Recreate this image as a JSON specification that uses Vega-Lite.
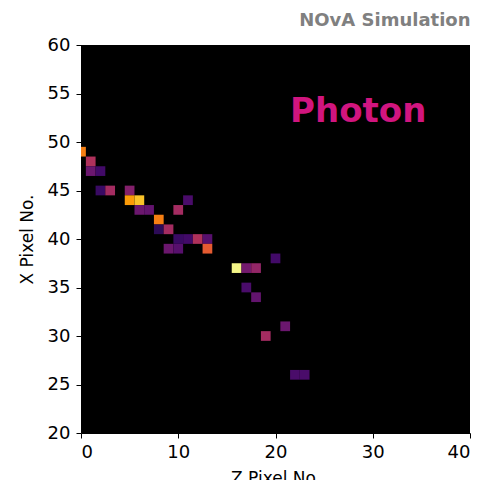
{
  "$schema": "https://vega.github.io/schema/vega-lite/v6.json",
  "autosize": "none",
  "width": 389,
  "height": 388,
  "padding": {"left": 81, "top": 45, "right": 20, "bottom": 47},
  "background": "white",
  "config": {
    "view": {"fill": "#000000", "stroke": null},
    "font": "DejaVu Sans",
    "axis": {"grid": false, "domainColor": "#000000", "tickColor": "#000000", "tickSize": 5, "labelColor": "#000000", "titleColor": "#000000", "labelFont": "DejaVu Sans", "titleFont": "DejaVu Sans", "labelFontSize": 18, "titleFontSize": 17, "titleFontWeight": "normal"}
  },
  "title": {"text": "NOvA Simulation", "anchor": "end", "color": "#808080", "fontSize": 18, "font": "DejaVu Sans", "fontWeight": "bold", "offset": 6},
  "layer": [
    {
      "data": {"values": [
        {"z": 0, "x": 49, "e": 0.72},
        {"z": 1, "x": 48, "e": 0.47},
        {"z": 1, "x": 47, "e": 0.3},
        {"z": 2, "x": 47, "e": 0.2},
        {"z": 2, "x": 45, "e": 0.18},
        {"z": 3, "x": 45, "e": 0.44},
        {"z": 5, "x": 45, "e": 0.36},
        {"z": 5, "x": 44, "e": 0.78},
        {"z": 6, "x": 44, "e": 0.86},
        {"z": 11, "x": 44, "e": 0.22},
        {"z": 6, "x": 43, "e": 0.3},
        {"z": 7, "x": 43, "e": 0.28},
        {"z": 10, "x": 43, "e": 0.44},
        {"z": 8, "x": 42, "e": 0.72},
        {"z": 8, "x": 41, "e": 0.15},
        {"z": 9, "x": 41, "e": 0.44},
        {"z": 10, "x": 40, "e": 0.18},
        {"z": 11, "x": 40, "e": 0.2},
        {"z": 12, "x": 40, "e": 0.47},
        {"z": 13, "x": 40, "e": 0.25},
        {"z": 9, "x": 39, "e": 0.3},
        {"z": 10, "x": 39, "e": 0.25},
        {"z": 13, "x": 39, "e": 0.63},
        {"z": 20, "x": 38, "e": 0.2},
        {"z": 16, "x": 37, "e": 0.97},
        {"z": 17, "x": 37, "e": 0.32},
        {"z": 18, "x": 37, "e": 0.4},
        {"z": 17, "x": 35, "e": 0.22},
        {"z": 18, "x": 34, "e": 0.28},
        {"z": 21, "x": 31, "e": 0.3},
        {"z": 19, "x": 30, "e": 0.44},
        {"z": 22, "x": 26, "e": 0.22},
        {"z": 23, "x": 26, "e": 0.22}
      ]},
      "mark": {"type": "square", "size": 94.5, "opacity": 1, "filled": true, "strokeWidth": 0, "clip": true},
      "encoding": {
        "x": {"field": "z", "type": "quantitative", "scale": {"domain": [0, 40], "nice": false, "zero": false}, "axis": {"values": [0, 10, 20, 30, 40], "title": "Z Pixel No.", "labelPadding": 5, "titlePadding": 9}},
        "y": {"field": "x", "type": "quantitative", "scale": {"domain": [20, 60], "nice": false, "zero": false}, "axis": {"values": [20, 25, 30, 35, 40, 45, 50, 55, 60], "title": "X Pixel No.", "labelPadding": 6, "titlePadding": 11}},
        "color": {"field": "e", "type": "quantitative", "scale": {"scheme": "inferno", "domain": [0, 1]}, "legend": null}
      }
    },
    {
      "data": {"values": [{"z": 21.5, "x": 52.05, "label": "Photon"}]},
      "mark": {"type": "text", "align": "left", "baseline": "alphabetic", "font": "DejaVu Sans", "fontWeight": "bold", "fontSize": 34, "color": "#d1157f"},
      "encoding": {
        "x": {"field": "z", "type": "quantitative"},
        "y": {"field": "x", "type": "quantitative"},
        "text": {"field": "label"}
      }
    }
  ]
}
